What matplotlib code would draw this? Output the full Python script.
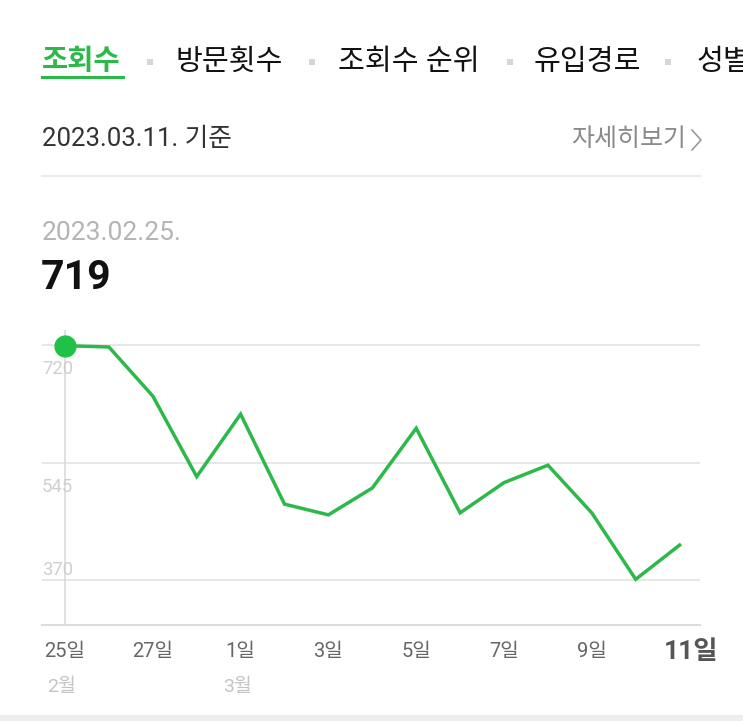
import matplotlib.pyplot as plt
from matplotlib.patches import Rectangle
from matplotlib.lines import Line2D

plt.rcParams['font.family'] = ['Roboto', 'Noto Sans CJK KR', 'DejaVu Sans']

# 일별 조회수 (2023.02.25 ~ 2023.03.11)
days = ['25', '26', '27', '28', '1', '2', '3', '4', '5', '6', '7', '8', '9', '10', '11']
views = [719, 717, 644, 524, 617, 483, 467, 507, 596, 470, 515, 541, 470, 371, 422]
y_ticks = [370, 545, 720]
x_label_idx = [0, 2, 4, 6, 8, 10, 12, 14]
month_labels = {0: '2월', 4: '3월'}
tabs = ['조회수', '방문횟수', '조회수 순위', '유입경로', '성별']

W, H = 743, 721
fig = plt.figure(figsize=(W / 100, H / 100), dpi=100)
fig.patch.set_facecolor('white')


def fx(px):
    return px / W


def fy(py):
    return 1 - py / H


GREEN = '#2db84a'

# 상단 탭
tab_x = [42, 176, 338, 534, 697]
for i, (t, x) in enumerate(zip(tabs, tab_x)):
    if i == 0:
        fig.text(fx(x), fy(62), t, fontsize=20.5, fontweight='bold', color=GREEN, va='center', ha='left')
    else:
        fig.text(fx(x), fy(62), t, fontsize=21, color='#111111', va='center', ha='left')
for bx in [150, 312, 510, 668]:
    fig.patches.append(Rectangle((fx(bx - 3), fy(65)), fx(6), 6 / H, transform=fig.transFigure,
                                 color='#d6d6d6', lw=0))
fig.lines.append(Line2D([fx(42), fx(123)], [fy(77), fy(77)], transform=fig.transFigure,
                        color=GREEN, lw=2.2))

fig.text(fx(42), fy(139), '2023.03.11. 기준', fontsize=18.5, color='#333333', va='center', ha='left')
fig.text(fx(686), fy(139), '자세히보기', fontsize=18, color='#8a8a8a', va='center', ha='right')
fig.lines.append(Line2D([fx(692), fx(701), fx(692)], [fy(130), fy(140), fy(150)],
                        transform=fig.transFigure, color='#9a9a9a', lw=1.2))
fig.lines.append(Line2D([fx(42), fx(700)], [fy(176), fy(176)], transform=fig.transFigure,
                        color='#ececec', lw=1.5))

fig.text(fx(42), fy(233), '2023.02.25.', fontsize=19, color='#b4b4b4', va='center', ha='left')
fig.text(fx(41), fy(278), str(views[0]), fontsize=29.5, fontweight='bold', color='#111111',
         va='center', ha='left')

# 차트 영역
px_per_day = 43.9
px_per_unit = 117.5 / 175
ax_left, ax_right, ax_top, ax_bottom = 42, 700, 330, 625
ax = fig.add_axes([fx(ax_left), fy(ax_bottom), fx(ax_right - ax_left), (ax_bottom - ax_top) / H])
ax.set_xlim((ax_left - 65) / px_per_day, (ax_right - 65) / px_per_day)
ax.set_ylim(720 - (ax_bottom - 345) / px_per_unit, 720 + (345 - ax_top) / px_per_unit)

for v in y_ticks:
    ax.axhline(v, color='#e3e3e3', lw=1.2, zorder=1)
    offset = 15 if v == min(y_ticks) else -36
    ax.text(ax.get_xlim()[0], v + offset, str(v), fontsize=13.3, color='#cfcfcf', va='center', ha='left')

ax.axvline(0, color='#dcdcdc', lw=1.2, zorder=1)
xs = list(range(len(views)))
ax.plot(xs, views, color=GREEN, lw=2.5, solid_joinstyle='miter', zorder=3)
ax.plot([0], [views[0]], 'o', color='#1fc247', ms=15, zorder=4)

for s in ['top', 'left', 'right']:
    ax.spines[s].set_visible(False)
ax.spines['bottom'].set_color('#dcdcdc')
ax.spines['bottom'].set_linewidth(1.5)
ax.set_yticks([])
ax.set_xticks([])

for i in x_label_idx:
    if i == len(views) - 1:
        ax.text(i + 0.25, -0.09, days[i] + '일', transform=ax.get_xaxis_transform(), fontsize=19,
                fontweight='bold', color='#555555', ha='center', va='center')
    else:
        ax.text(i, -0.09, days[i] + '일', transform=ax.get_xaxis_transform(), fontsize=14.5,
                color='#666666', ha='center', va='center')
for i, m in month_labels.items():
    ax.text(i - 0.08, -0.21, m, transform=ax.get_xaxis_transform(), fontsize=14, color='#c4c4c4',
            ha='center', va='center')

fig.patches.append(Rectangle((0, 0), 1, 6 / H, transform=fig.transFigure, color='#eeeeee', lw=0))

fig.savefig('out.png', dpi=100, facecolor='white')
